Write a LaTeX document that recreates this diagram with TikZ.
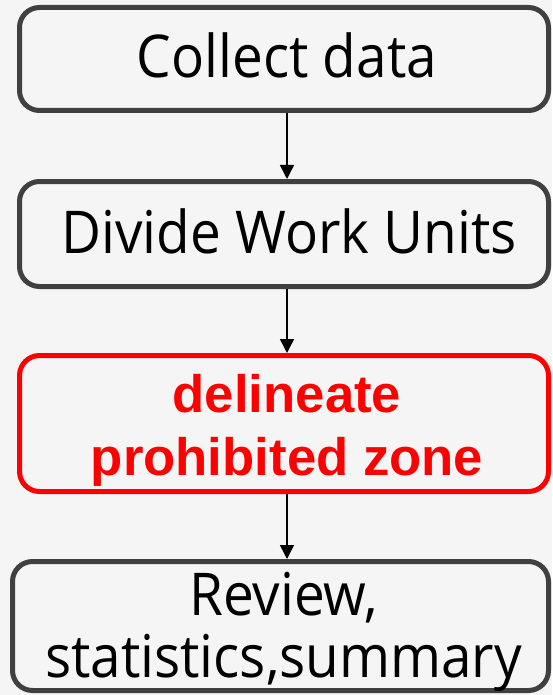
\documentclass[tikz,border=0pt]{standalone}
\usepackage{fontspec}
\setmainfont{Open Sans}[FakeStretch=0.93]
\newfontfamily\arialfont{Liberation Sans}
\usetikzlibrary{arrows.meta}
\definecolor{bg}{HTML}{F5F5F5}
\definecolor{frame}{HTML}{404040}
\definecolor{alert}{HTML}{FF0000}

\begin{document}
\begin{tikzpicture}[x=1pt, y=-1pt,
  stepbox/.style={draw=frame, line width=5pt, rounded corners=20pt, fill=bg, inner sep=0pt},
  keybox/.style={stepbox, draw=alert},
  steptext/.style={anchor=base, inner sep=0pt, font=\fontsize{59}{62}\selectfont, align=center},
  keytext/.style={anchor=base, inner sep=0pt, text=alert, align=center,
    font=\arialfont\bfseries\fontsize{52.7}{63}\selectfont},
  link/.style={draw=black, line width=1.5pt, -{Triangle[length=14pt, width=14pt]}}]

% canvas
\fill[bg] (0,0) rectangle (552,695);
\useasboundingbox (0,0) rectangle (552,695);

% boxes
\node[stepbox, minimum width=529pt, minimum height=103pt] (b1) at (284,59) {};
\node[stepbox, minimum width=529pt, minimum height=105pt] (b2) at (284,234) {};
\node[keybox,  minimum width=529pt, minimum height=136pt] (b3) at (284,423.5) {};
\node[stepbox, minimum width=536pt, minimum height=129pt] (b4) at (280.5,626) {};

% labels (base anchor of a two-line label sits on its last line)
\node[steptext] (t1) at (287,78) {Collect data};
\node[steptext] (t2) at (289,253) {Divide Work Units};
\node[keytext]  (t3) at (287,475) {delineate\\prohibited zone};
\node[steptext] (t4) at (283.5,677) {Review,\\statistics,summary};

% connectors
\coordinate (ax) at (287,0);
\draw[link] (b1.south -| ax) -- (b2.north -| ax);
\draw[link] (b2.south -| ax) -- (b3.north -| ax);
\draw[link] (b3.south -| ax) -- (b4.north -| ax);
\end{tikzpicture}
\end{document}
